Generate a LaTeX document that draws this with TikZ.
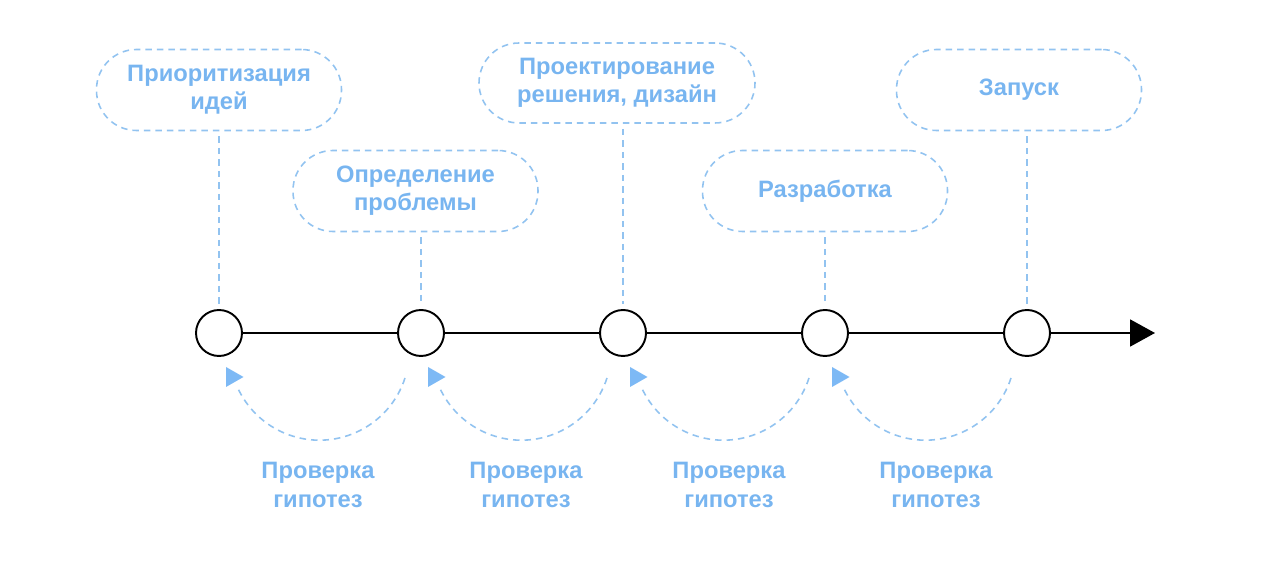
\documentclass[tikz,border=0pt]{standalone}
\usepackage{fontspec}
\setmainfont{Liberation Sans}
\usetikzlibrary{positioning,arrows.meta}
\definecolor{textblue}{HTML}{78B5F0}
\definecolor{dashblue}{HTML}{92C3F0}
\definecolor{tipblue}{HTML}{7DB9F5}

\begin{document}
\begin{tikzpicture}[node distance=4.04cm,on grid,auto,
        milestone/.style={circle,draw,line width=1.1pt,minimum size=0.92cm,fill=white},
        stage/.style={draw=dashblue,dash pattern=on 0.13cm off 0.1cm,line width=0.9pt,rounded corners=0.8cm,
            minimum width=4.9cm,minimum height=1.62cm,align=center,text=textblue,
            font=\fontsize{13.5}{16}\selectfont\bfseries},
        guide/.style={dashblue,dash pattern=on 0.13cm off 0.1cm,line width=0.9pt},
        check/.style={align=center,text=textblue,font=\fontsize{13.5}{16}\selectfont\bfseries}]
        \useasboundingbox (0,0) rectangle (25.6,-11.3);
        % timeline
        \node[milestone] (c1) at (4.38,-6.66) {};
        \node[milestone] (c2) [right of=c1] {};
        \node[milestone] (c3) [right of=c2] {};
        \node[milestone] (c4) [right of=c3] {};
        \node[milestone] (c5) [right of=c4] {};
        \coordinate[right=2.56cm of c5] (end);
        \path[line width=1.1pt]
        (c1) edge (c2)
        (c2) edge (c3)
        (c3) edge (c4)
        (c4) edge (c5)
        (c5) edge [-{Triangle[length=0.5cm,width=0.54cm]}] (end);
        % stages
        \node[stage] (b1) [above=4.86cm of c1] {Приоритизация\\идей};
        \node[stage] (b2) [above=2.84cm of c2,xshift=-0.11cm] {Определение\\проблемы};
        \node[stage,minimum width=5.52cm,minimum height=1.6cm] (b3) [above=5cm of c3,xshift=-0.12cm] {Проектирование\\решения, дизайн};
        \node[stage] (b4) [above=2.84cm of c4] {Разработка};
        \node[stage] (b5) [above=4.86cm of c5,xshift=-0.16cm] {Запуск};
        \path[guide,shorten <=0.1cm,shorten >=0.1cm]
        (b1.south -| c1) edge (c1)
        (b2.south -| c2) edge (c2)
        (b3.south -| c3) edge (c3)
        (b4.south -| c4) edge (c4)
        (b5.south -| c5) edge (c5);
        % hypothesis checks
        \draw[guide] (c2) ++(-0.32,-0.9) arc[start angle=-18,end angle=-154,radius=1.8];
        \draw[guide] (c3) ++(-0.32,-0.9) arc[start angle=-18,end angle=-154,radius=1.8];
        \draw[guide] (c4) ++(-0.32,-0.9) arc[start angle=-18,end angle=-154,radius=1.8];
        \draw[guide] (c5) ++(-0.32,-0.9) arc[start angle=-18,end angle=-154,radius=1.8];
        \fill[tipblue] (c1) ++(0.14,-0.68) -- ++(0,-0.4) -- ++(0.35,0.2) -- cycle;
        \fill[tipblue] (c2) ++(0.14,-0.68) -- ++(0,-0.4) -- ++(0.35,0.2) -- cycle;
        \fill[tipblue] (c3) ++(0.14,-0.68) -- ++(0,-0.4) -- ++(0.35,0.2) -- cycle;
        \fill[tipblue] (c4) ++(0.14,-0.68) -- ++(0,-0.4) -- ++(0.35,0.2) -- cycle;
        \node[check] (h1) [below right=3.04cm and 1.98cm of c1] {Проверка\\гипотез};
        \node[check] (h2) [below right=3.04cm and 2.1cm of c2] {Проверка\\гипотез};
        \node[check] (h3) [below right=3.04cm and 2.12cm of c3] {Проверка\\гипотез};
        \node[check] (h4) [below right=3.04cm and 2.22cm of c4] {Проверка\\гипотез};
    \end{tikzpicture}
\end{document}
